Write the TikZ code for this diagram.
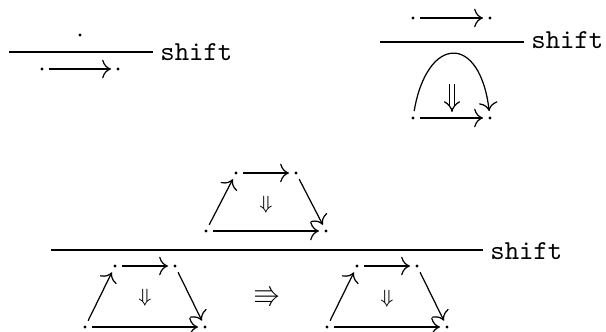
\documentclass[tikz,border=0pt]{standalone}
\usepackage{amssymb}
\usepackage{tikz}
\usetikzlibrary{arrows.meta}
\tikzset{
  pt/.style={circle,fill,inner sep=0pt,minimum size=1.1pt,outer sep=2pt},
  lbl/.style={anchor=west,inner sep=2.5pt,font=\ttfamily},
  twocell/.style={double,double distance=1.6pt,line width=0.45pt,-{Implies[length=2.6pt]}},
}
\begin{document}
\begin{tikzpicture}[x=0.365pt,y=0.365pt,yscale=-1,xscale=1,>={To[scale=1.25]},line width=0.45pt]
\useasboundingbox (0,0) rectangle (606,332);

%Shape: top left rule
\node[pt] (a0) at (80,35) {};
\node[pt] (a1) at (42,69) {};
\node[pt] (a2) at (118,69) {};
\coordinate (ra) at (9,52);
\node[lbl] (sa) at (153,52.5) {shift};
\draw (ra) -- (ra -| sa.west) ;
%Straight Lines
\draw[->] (a1) -- (a2) ;

%Shape: top right rule
\node[pt] (b0) at (413,18) {};
\node[pt] (b1) at (490,18) {};
\draw[->] (b0) -- (b1) ;
\coordinate (rb) at (380,42);
\node[lbl] (sb) at (524,40) {shift};
\draw (rb) -- (rb -| sb.west) ;
\node[pt] (b2) at (413,118) {};
\node[pt] (b3) at (490,118) {};
%Straight Lines
\draw[->] (b2) -- (b3) ;
%Shape: Arc
\draw[->] (b2) .. controls (427,35) and (480,33) .. (b3) ;
% double arrow
\coordinate (u1) at (452,84);
\coordinate (u2) at (452,112);
\draw[twocell] (u1) -- (u2) ;

%Shape: upper trapezoid
\node[pt] (c1) at (236,173) {};
\node[pt] (c2) at (296,173) {};
\node[pt] (c3) at (206,231) {};
\node[pt] (c4) at (326,231) {};
\draw[->] (c3) -- (c1) ;
\draw[->] (c1) -- (c2) ;
\draw[->] (c2) -- (c4) ;
\draw[->] (c3) -- (c4) ;
\node[font=\scriptsize] (dc) at (266,205) {$\Downarrow$};

%Straight Lines: bottom rule
\coordinate (rc) at (51,250);
\node[lbl] (sc) at (483,251.5) {shift};
\draw (rc) -- (rc -| sc.west) ;

%Shape: lower left trapezoid
\node[pt] (d1) at (115,266) {};
\node[pt] (d2) at (175,266) {};
\node[pt] (d3) at (85,327) {};
\node[pt] (d4) at (205,327) {};
\draw[->] (d3) -- (d1) ;
\draw[->] (d1) -- (d2) ;
\draw[->] (d2) -- (d4) ;
\draw[->] (d3) -- (d4) ;
\node[font=\scriptsize] (dd) at (145,298) {$\Downarrow$};

% Text Node
\node (tt) at (267,297) {$\Rrightarrow$};

%Shape: lower right trapezoid
\node[pt] (e1) at (357,266) {};
\node[pt] (e2) at (417,266) {};
\node[pt] (e3) at (327,327) {};
\node[pt] (e4) at (447,327) {};
\draw[->] (e3) -- (e1) ;
\draw[->] (e1) -- (e2) ;
\draw[->] (e2) -- (e4) ;
\draw[->] (e3) -- (e4) ;
\node[font=\scriptsize] (de) at (387,299) {$\Downarrow$};

\end{tikzpicture}
\end{document}
